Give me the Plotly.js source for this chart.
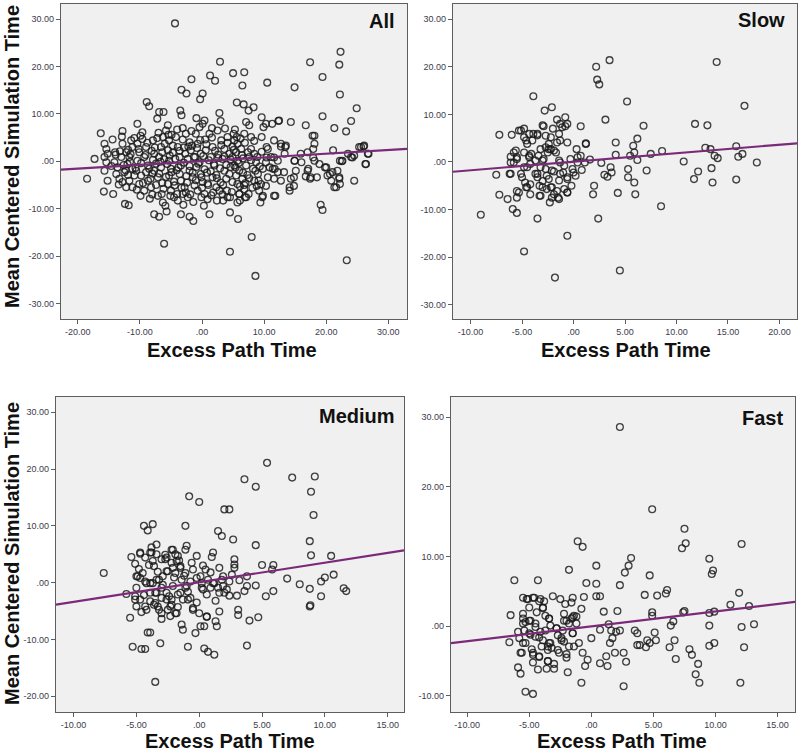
<!DOCTYPE html>
<html>
<head>
<meta charset="utf-8">
<script src="https://cdn.plot.ly/plotly-3.0.1.min.js"></script>
<style>
  html, body { margin: 0; padding: 0; background: #fff; }
  #chart { width: 800px; height: 753px; }
</style>
</head>
<body>
<div id="chart"></div>
<script>
// points: [excess path time, mean centered simulation time]
var allPoints = [
  [-4.35,29.1],[2.9,21.0],[5.0,18.6],[6.8,18.8],[1.3,18.1],[2.1,17.0],[-1.7,17.3],[10.5,16.6],[6.5,16.0],
  [-3.3,15.1],[-2.5,14.3],[-0.3,13.1],[0.1,14.3],[14.9,15.6],[17.4,20.9],[22.1,20.4],[22.3,23.1],[19.4,17.8],
  [22.2,14.1],[24.9,11.2],[19.4,9.5],[24.0,8.5],[21.3,7.0],[23.2,6.3],[16.7,7.6],[18.1,5.4],[14.3,8.3],
  [12.3,8.5],[11.3,7.9],[9.6,9.3],[9.9,7.2],[5.6,12.4],[6.7,12.0],[8.3,11.4],[7.5,10.7],[2.8,10.2],
  [3.0,8.5],[0.4,8.6],[-0.9,9.1],[-3.5,10.7],[-3.3,9.7],[-8.9,12.5],[-8.5,11.6],[-6.9,10.4],[-6.2,10.4],
  [-7.2,9.0],[-10.4,7.9],[-12.8,6.4],[-16.3,5.9],[-18.5,-3.7],[-17.3,0.5],[-15.8,-6.4],[-14.3,-6.9],
  [-12.4,-9.0],[-11.8,-9.3],[-7.7,-11.2],[-6.9,-11.7],[-5.7,-10.6],[-3.4,-11.2],[-2.0,-11.7],[-1.4,-12.6],
  [-6.1,-17.4],[0.3,-9.4],[1.2,-11.2],[4.5,-10.8],[5.8,-12.2],[4.5,-19.1],[8.0,-16.0],[8.6,-24.2],
  [23.3,-20.9],[19.1,-9.2],[19.4,-10.3],[24.5,-4.1],[26.3,-0.6],[26.8,1.6],[26.0,3.1],[25.3,3.0],[24.2,0.8],
  [22.2,0.1],[22.5,0.0],[21.1,2.3],[22.1,-3.4],[22.2,-4.8],[21.3,-5.5],[20.6,-2.7],[19.8,-1.3],[18.5,-3.4],
  [17.4,-3.7],[16.7,-3.2],[17.1,-1.6],[17.9,0.8],[17.9,2.6],[16.0,-0.2],[14.9,0.1],[14.8,-3.4],[14.1,-6.2],
  [14.8,-5.2],[13.2,-2.3],[12.7,3.1],[13.4,3.0],[11.6,0.8],[11.7,-1.6],[10.9,-1.3],[11.8,-7.3],[9.7,-7.6],
  [9.4,-8.7],[10.4,3.0],[9.6,5.1],[10.4,0.8],[9.1,-4.1],[8.8,-5.2],[7.5,-6.9],[6.9,-7.6],[6.0,-6.9],
  [6.1,-8.3],[4.5,-7.6],[3.4,-8.3],[2.4,-8.3],[1.8,-6.6],[4.0,-6.2],
  [-15.7,3.7],[-15.4,2.6],[-15.2,1.6],[-15.7,0.9],[-15.4,-0.2],[-15.7,-2.0],[-15.2,-4.1],[-14.1,-0.2],
  [-13.6,-1.3],[-13.8,-2.7],[-13.3,-3.7],[-12.8,-4.4],[-12.5,-2.3],[-13.0,0.9],[-12.2,1.9],[-12.8,3.7],
  [-11.4,4.4],[-11.2,3.0],[-11.7,0.9],[-12.0,-0.6],[-11.2,-1.6],[-10.9,-3.0],[-11.7,-4.1],[-12.2,-5.5],
  [-11.2,-5.5],[-10.1,-4.8],[-9.8,-3.0],[-10.4,0.1],[-10.1,1.9],[-10.4,3.7],[-9.6,4.7],[-9.0,3.0],
  [-9.3,0.9],[-8.7,-0.9],[-9.0,-2.3],[-8.7,-4.1],[-9.3,-6.2],[-8.2,-5.5],[-7.9,4.4],[-7.7,1.6],[-7.7,-2.0],
  [-7.1,-3.4],[-6.6,-1.3],[-6.9,0.9],[-6.6,3.0],[-6.3,5.1],[-5.5,7.6],[-5.8,6.5],[-5.3,4.4],[-5.5,2.3],
  [-5.3,0.1],[-5.0,-1.6],[-5.3,-3.0],[-5.5,-4.8],[-5.0,-6.2],[-7.1,-7.3],[-6.3,-8.7],[-4.5,-7.6],[-3.9,-8.3],
  [-4.2,5.1],[-3.9,3.0],[-3.6,0.9],[-3.4,-0.9],[-3.6,-2.7],[-3.4,-4.1],[-2.8,-5.5],[-3.1,-6.9],[-2.3,-7.6],
  [-2.6,5.8],[-2.0,4.0],[-1.8,2.3],[-2.3,0.5],[-2.0,-2.0],[-1.5,-3.4],[-1.2,-5.1],[-0.7,-6.2],[-1.0,5.8],
  [-0.4,7.2],[0.1,7.9],[-0.7,3.7],[-0.2,1.6],[-0.4,-0.2],[-0.2,-2.7],[0.1,-4.4],[0.4,-6.9],[0.9,-8.0],
  [1.2,5.8],[1.7,3.0],[1.4,0.9],[2.0,-0.9],[1.7,-3.4],[2.3,-5.5],[2.8,-6.2],[3.1,4.4],[3.6,2.6],[3.3,0.5],
  [3.6,-2.0],[3.9,-3.7],[4.1,-7.6],[2.5,6.5],[4.1,5.1],[4.4,1.6],
  [5.1,5.8],[5.2,4.4],[5.7,3.7],[6.3,2.6],[5.5,1.9],[4.9,0.9],[5.7,0.1],[5.2,-0.9],[6.0,-2.0],[5.5,-3.0],
  [6.5,-3.7],[5.7,-4.8],[6.8,-5.9],[6.0,-6.9],[7.1,-7.6],[5.7,-8.7],[7.9,2.6],[8.4,1.6],[7.6,0.9],[8.7,-0.2],
  [8.2,-1.6],[9.0,-2.7],[8.4,-4.1],[9.5,-4.8],[9.2,-6.2],[9.8,-7.3],[7.6,7.6],[7.1,8.3],[7.9,5.1],[6.8,5.8],
  [10.3,7.9],[12.4,8.6],[11.6,4.4],[12.7,3.7],[13.5,3.3],[10.6,2.6],[11.1,0.9],[12.2,0.1],[13.3,1.6],
  [10.3,-0.2],[11.4,-1.6],[12.2,-2.3],[10.6,-3.4],[11.6,-3.7],[9.8,-1.6],[12.7,-4.1],[10.3,-5.2],[11.6,-7.3],
  [14.1,-5.5],[14.3,-3.7],[15.1,-2.0],[14.9,0.1],[15.9,1.6],[17.0,1.9],[17.8,5.4],[18.1,3.7],[18.1,0.1],
  [18.9,-0.6],[20.0,-1.3],[17.0,-2.0],[17.5,-3.4],[20.2,-3.0],[21.0,-2.3],[21.8,-2.0],[20.8,-4.1],[22.1,-3.7],
  [21.6,-5.5],[22.6,0.1],[23.5,1.6],[24.0,0.9],[24.5,1.2],[25.6,3.0],[26.1,3.3],[26.7,1.6],[26.4,-0.6],
  [-8.1,2.2],[-7.4,-0.5],[-6.1,0.4],[-4.7,1.8],[-4.1,-1.9],[-2.9,2.9],[-1.1,0.9],[-0.9,-1.2],[0.6,2.3],
  [0.8,-2.4],[2.6,1.4],[2.3,-2.9],[4.6,-1.2],[6.6,0.6],[7.3,-2.9],[-10.7,-1.4],[-8.0,-2.6],[-6.4,-4.6],
  [-4.4,-5.1],[-2.5,-3.1],[-1.6,3.3],[0.5,4.6],[1.0,-5.0],[3.0,-4.5],[4.9,3.1],[6.2,4.8],[7.0,-4.6],
  [-9.6,6.1],[-7.0,6.0],[-4.9,5.6],[-3.1,7.0],[-1.9,-7.0],[-0.1,-7.6],[1.6,7.0],[3.7,6.9],[5.3,6.7],
  [-11.9,2.4],[-13.9,1.4],[-14.4,4.6],[-9.9,-7.3],[-8.4,-7.9],[-5.9,-9.4],[-3.0,-9.2],
  [-13.2,2.1],[-12.6,-0.8],[-11.9,-2.9],[-11.5,1.5],[-10.9,4.9],[-10.6,-2.0],[-10.2,2.6],[-9.8,-0.4],
  [-9.5,-4.6],[-9.1,1.3],[-8.8,3.9],[-8.5,-1.6],[-8.3,-3.7],[-7.9,0.3],[-7.6,2.9],[-7.4,-5.0],[-7.2,4.9],
  [-6.9,-2.6],[-6.7,-0.1],[-6.4,1.9],[-6.2,-5.8],[-6.0,3.7],[-5.8,-3.3],[-5.6,-0.6],[-5.4,5.6],[-5.2,1.2],
  [-4.9,-2.3],[-4.7,3.3],[-4.5,-4.3],[-4.3,0.5],[-4.0,6.7],[-3.8,-1.3],[-3.6,2.2],[-3.3,-5.6],[-3.1,4.6],
  [-2.9,-0.3],[-2.7,1.6],[-2.4,-4.5],[-2.2,3.1],[-2.0,-1.0],[-1.7,6.4],[-1.5,-2.4],[-1.3,0.9],[-1.0,-4.0],
  [-0.8,2.8],[-0.6,-0.5],[-0.3,4.5],[-0.1,-3.4],[0.2,1.1],[0.4,-1.7],[0.7,3.6],[0.9,-4.7],[1.1,0.2],
  [1.4,-2.1],[1.6,5.0],[1.9,-0.6],[2.1,2.2],[2.4,-3.6],[2.6,0.7],[2.9,-1.5],[3.1,3.4],[3.4,-5.0],[3.6,1.0],
  [3.9,-0.8],[4.1,3.9],[4.4,-2.7],[4.6,0.4],[4.9,-4.4],[5.1,2.4],[5.4,-1.3],[5.6,5.1],[5.9,-0.4],[6.1,-5.3],
  [6.4,1.3],[6.6,-2.4],[6.9,3.9],[7.1,-0.9],[7.4,1.9],[7.6,-3.6],[7.9,0.2],[8.1,-5.6],[8.4,4.3],[8.6,-2.0],
  [8.9,0.9],[9.3,-1.1],[9.6,2.0],[-14.6,-1.0],[-14.0,1.9],[-13.4,-4.9],[-12.9,5.2],[-12.3,-1.9],[-11.6,-0.1],
  [-10.5,-6.0],[-9.9,5.4],[-8.0,-7.0],[-6.5,-6.9],[-5.1,-7.3],[-4.0,-6.9],[-2.6,-6.6],[-1.4,-8.6],[0.0,-5.6],
  [1.5,-7.2],[3.3,-7.0],[4.8,-6.5],[6.8,-5.0]
];
var slowPoints = [
  [-9.0,-11.1],[-7.2,5.7],[-7.5,-2.7],[-7.2,-6.9],[-6.4,-7.8],[-6.0,5.7],[-6.1,1.1],[-6.2,-2.5],[-5.9,-9.9],
  [-5.5,-10.7],[-5.5,-7.5],[-5.3,-6.4],[-5.8,-0.1],[-5.5,0.6],[-5.6,2.4],[-5.1,-2.5],[-5.3,6.6],[-4.8,7.0],
  [-4.8,-18.8],[-4.6,-5.3],[-4.7,-4.3],[-4.5,-1.1],[-4.3,1.0],[-4.6,4.5],[-4.1,1.7],[-4.2,-6.8],[-3.9,13.8],
  [-3.9,5.9],[-3.5,5.6],[-3.7,-2.5],[-3.5,-3.2],[-3.5,-11.9],[-3.3,-7.1],[-3.3,-5.0],[-3.2,2.7],[-3.0,0.3],
  [-2.9,7.5],[-2.8,10.8],[-2.7,-1.5],[-2.6,-5.7],[-2.4,-3.6],[-2.4,2.7],[-2.3,-8.5],[-2.2,5.2],[-2.1,11.5],
  [-2.1,-5.3],[-1.9,-6.8],[-2.0,7.0],[-1.9,-2.0],[-1.8,-24.3],[-1.7,2.0],[-1.6,8.9],[-1.5,-7.5],[-1.4,-3.9],
  [-1.3,4.5],[-1.3,-0.1],[-1.1,7.3],[-1.0,-2.2],[-0.9,-5.7],[-0.8,9.4],[-0.8,7.5],[-0.6,4.1],[-0.6,-3.2],
  [-0.6,-6.4],[-0.6,-15.5],[-0.2,-5.0],[-0.1,-1.5],[0.3,2.7],[0.4,1.0],[0.2,-2.9],[0.7,7.5],[0.8,-1.7],
  [1.2,3.9],[1.1,-0.1],[1.6,0.5],[2.0,-5.0],[1.9,-6.8],[2.2,20.0],[2.3,17.3],[2.5,16.3],[2.4,-11.9],
  [2.7,-0.2],[3.0,-2.7],[3.1,8.9],[3.3,-3.1],[3.5,21.4],[3.6,-1.1],[3.7,-2.2],[4.1,4.1],[4.1,1.5],[4.3,-6.5],
  [4.5,-22.8],[5.2,12.7],[5.3,-1.5],[5.3,-3.2],[5.5,1.3],[5.8,3.4],[5.9,-4.3],[6.0,-6.8],[6.2,4.9],[6.2,0.4],
  [5.9,2.0],[6.8,7.6],[7.1,-1.8],[7.5,1.7],[8.5,-9.3],[8.6,2.3],[10.7,0.1],[11.7,-3.6],[11.8,8.0],
  [12.1,-2.0],[12.8,3.0],[13.0,7.7],[13.4,-1.3],[13.3,2.7],[13.5,-4.3],[13.7,1.3],[13.9,21.0],[14.0,0.8],
  [15.8,3.3],[15.8,-3.7],[16.0,1.1],[16.4,1.7],[16.6,11.8],[17.8,-0.1],
  [-5.1,6.6],[-4.8,5.2],[-4.3,5.9],[-4.0,4.5],[-4.5,3.8],[-3.5,5.9],[-3.0,7.7],[-2.7,5.5],[-2.4,3.8],
  [-2.2,2.7],[-2.7,3.1],[-2.5,2.0],[-1.9,2.4],[-1.6,4.1],[-1.4,5.9],[-1.3,8.0],[-0.6,8.0],[-5.8,2.0],
  [-5.5,1.0],[-4.8,2.0],[-4.3,1.3],[-3.7,0.3],[-4.2,-0.4],[-3.4,1.3],[-2.9,0.6],[-3.2,-1.1],[-3.5,-2.5],
  [-3.0,-4.0],[-2.6,-2.9],[-2.1,-1.8],[-1.4,0.3],[-0.9,-0.8],[-1.3,-2.5],[-0.6,-3.6],[0.0,-2.2],[0.4,-0.1],
  [-0.3,0.6],[0.7,1.3],[1.2,3.8],[-4.8,-1.1],[-5.0,-3.2],[-4.5,-5.3],[-4.2,-4.7],[-5.5,-6.1],[-6.1,-2.5],
  [-6.1,-0.1],[-3.0,-5.3],[-2.2,-5.3],[-1.6,-6.1],[-2.1,-7.5],[-0.6,-6.4],[-1.4,-7.8],[-3.2,-7.1]
];
var mediumPoints = [
  [-7.6,1.7],[-5.8,-2.0],[-5.5,-6.2],[-5.3,-11.3],[-5.4,4.5],[-5.1,3.3],[-5.0,1.1],[-5.1,-3.0],[-5.0,-4.2],
  [-4.7,5.1],[-4.9,1.1],[-4.5,1.7],[-4.4,10.0],[-4.1,9.2],[-3.7,10.3],[-4.6,-11.7],[-4.3,-11.7],[-4.1,-8.8],
  [-3.9,-8.8],[-3.5,-17.5],[-3.1,-10.7],[-4.2,-0.1],[-3.9,-1.8],[-4.2,-4.8],[-3.8,5.3],[-3.6,2.9],[-3.4,6.7],
  [-3.7,-0.1],[-3.4,-1.8],[-3.5,-3.6],[-3.2,0.5],[-3.0,-0.9],[-3.0,-6.4],[-3.2,-4.8],[-2.7,4.1],[-2.6,2.0],
  [-2.6,-3.0],[-2.5,-4.8],[-2.2,3.5],[-2.1,5.8],[-1.9,1.7],[-2.1,-0.6],[-1.9,-5.4],[-2.2,-3.9],[-1.7,4.7],
  [-1.5,2.6],[-1.4,0.5],[-1.5,-1.8],[-1.4,-7.4],[-1.3,-8.3],[-1.1,5.8],[-1.1,10.0],[-1.1,1.7],[-1.0,-0.6],
  [-0.9,-3.0],[-0.9,-11.3],[-0.8,15.2],[-0.6,3.5],[-0.5,-4.8],[-0.3,-8.9],[-0.2,4.7],[0.0,14.2],[0.1,1.1],
  [0.2,-0.9],[0.1,-7.7],[0.4,-11.6],[0.4,-7.7],[0.5,2.3],[0.6,-6.0],[0.7,-12.2],[1.1,5.3],[1.2,-12.7],
  [1.1,-0.1],[1.3,-6.8],[1.4,-7.7],[1.5,9.1],[1.6,-5.1],[1.8,8.2],[1.6,-1.8],[1.9,1.1],[2.0,12.9],[2.4,12.9],
  [2.4,-2.3],[2.7,7.6],[2.8,4.1],[2.8,3.2],[2.8,2.6],[3.0,-2.3],[3.1,-4.8],[3.1,-5.7],[3.2,0.4],[3.6,18.2],
  [3.8,-11.1],[3.8,1.1],[3.8,-0.6],[3.6,-1.5],[4.0,-6.7],[4.5,6.6],[4.5,-0.5],[4.5,16.9],[4.7,-6.1],
  [5.0,3.1],[5.3,-2.4],[5.4,21.1],[5.8,2.3],[5.9,3.1],[5.9,-1.5],[7.0,0.7],[7.4,18.5],[8.0,-0.3],[8.8,7.3],
  [8.8,-1.1],[8.8,-4.2],[8.9,16.0],[8.9,4.8],[9.1,11.9],[9.2,18.7],[9.7,-2.4],[9.7,0.2],[10.0,0.9],
  [10.5,4.7],[10.7,1.4],[11.5,-1.0],[11.7,-1.5],[8.85,-4.0],
  [-4.7,5.3],[-4.3,4.4],[-3.9,5.3],[-3.7,3.8],[-3.4,5.0],[-3.0,4.1],[-2.6,4.4],[-2.2,5.8],[-1.9,5.0],
  [-1.8,3.8],[-1.5,2.9],[-2.1,2.6],[-2.5,2.0],[-2.9,1.1],[-3.4,0.5],[-3.9,-0.1],[-4.3,0.2],[-4.7,0.8],
  [-5.0,-0.9],[-5.1,-2.4],[-4.7,-3.0],[-4.3,-4.2],[-3.9,-3.3],[-3.5,-1.8],[-3.0,-2.7],[-2.6,-1.8],[-2.2,-3.0],
  [-1.7,-2.1],[-1.3,-3.0],[-0.7,-2.7],[-1.1,-0.9],[-0.7,0.2],[-0.2,0.8],[0.2,-0.1],[0.3,-1.2],[0.7,0.5],
  [0.9,-0.9],[1.2,-0.1],[1.5,-0.9],[1.8,0.5],[1.9,-0.6],[2.2,-1.2],[2.4,0.2],[-0.5,-4.5],[0.6,-6.0],
  [-2.3,-4.2],[-3.3,-4.2],[-3.0,-5.4],[-1.8,-5.4],
  [-4.8,2.4],[-4.4,-2.2],[-4.0,3.1],[-3.6,-3.9],[-3.3,1.9],[-2.9,-0.4],[-2.7,4.9],[-2.4,-2.4],[-2.0,0.9],
  [-1.7,-4.3],[-1.6,3.9],[-1.2,1.2],[-0.9,-1.6],[-0.5,2.3],[-0.2,-3.5],[0.3,3.0],[0.6,-2.1],[0.9,1.8],
  [1.3,-3.2],[1.6,2.6],[2.0,-1.8],[2.6,1.4],[-4.6,-5.2],[-3.8,6.2],[-2.3,-5.9],[-1.0,6.5],[0.0,-5.4],[1.0,4.5]
];
var fastPoints = [
  [-6.6,-2.3],[-6.5,1.6],[-6.2,6.6],[-5.9,-0.8],[-5.9,-5.9],[-5.7,-6.8],[-5.8,-1.7],[-5.6,-3.8],[-5.5,4.1],
  [-5.5,1.8],[-5.5,0.4],[-5.4,-0.6],[-5.3,-2.4],[-5.3,-9.4],[-5.2,3.9],[-5.0,2.7],[-5.0,0.8],[-4.9,-1.2],
  [-4.8,-3.3],[-4.7,-4.1],[-4.7,-9.7],[-4.7,-5.2],[-4.6,4.1],[-4.5,-0.1],[-4.4,2.0],[-4.3,6.6],[-4.2,-1.6],
  [-4.2,-4.4],[-4.3,-6.2],[-4.1,3.9],[-4.0,-2.9],[-3.9,2.6],[-3.8,3.6],[-3.7,1.5],[-3.7,-0.6],[-3.6,-6.1],
  [-3.5,-5.0],[-3.5,-3.4],[-3.4,1.1],[-3.3,0.1],[-3.3,-2.4],[-3.2,-3.1],[-3.1,4.3],[-3.0,-6.1],[-2.8,-0.3],
  [-2.7,-1.3],[-2.5,3.9],[-2.6,-3.8],[-2.4,-2.0],[-2.3,-0.6],[-2.2,0.8],[-2.1,3.2],[-2.0,-4.5],[-1.9,-6.6],
  [-1.8,8.1],[-1.8,0.4],[-1.6,3.4],[-1.5,1.3],[-1.5,-1.0],[-1.4,-2.9],[-1.5,4.1],[-1.2,1.4],[-1.0,-2.4],
  [-1.1,12.2],[-0.8,-8.1],[-0.7,11.4],[-0.7,-3.8],[-0.6,4.2],[-0.8,2.5],[-0.5,-5.7],[-0.4,6.2],[-0.3,-4.8],
  [0.0,-1.7],[0.4,8.7],[0.4,6.1],[0.4,4.3],[0.7,4.3],[0.7,-0.5],[0.7,-5.3],[1.0,2.1],[1.2,-4.3],[1.3,-5.7],
  [1.4,0.3],[1.5,-2.4],[1.6,-0.6],[1.7,-1.7],[1.9,-3.8],[2.0,-0.8],[2.1,2.2],[2.3,5.9],[2.3,-0.6],[2.3,28.6],
  [2.6,-3.8],[2.6,-8.6],[2.7,7.7],[2.8,-5.1],[3.0,8.7],[3.2,9.8],[3.5,-0.6],[3.7,-1.0],[3.7,-2.7],[3.9,-2.7],
  [4.3,4.5],[4.4,-3.0],[4.5,-2.0],[4.7,7.3],[4.7,-2.4],[4.9,2.0],[4.9,1.5],[4.9,16.8],[5.1,-0.9],[5.2,-2.0],
  [5.3,4.4],[6.0,4.7],[6.1,5.2],[6.3,-3.0],[6.4,0.1],[6.6,0.7],[6.7,-2.0],[6.8,-4.7],[7.3,11.2],[7.4,2.0],
  [7.5,2.2],[7.5,14.0],[7.6,11.9],[7.9,-3.3],[8.1,-4.1],[8.4,-6.9],[8.6,-5.4],[8.7,-8.1],[9.5,1.9],[9.5,9.7],
  [9.5,0.1],[9.5,-2.8],[9.7,7.5],[9.8,8.0],[9.9,2.1],[9.9,-2.4],[11.2,3.1],[11.9,4.8],[12.0,-8.1],
  [12.1,-0.1],[12.1,11.8],[12.3,-3.0],[12.7,2.9],[13.1,0.3],
  [-5.1,3.9],[-4.7,4.1],[-4.2,3.6],[-3.9,2.7],[-3.4,1.1],[-5.5,1.1],[-5.3,0.6],[-4.9,0.8],[-4.5,0.4],
  [-5.0,-1.0],[-4.5,-1.5],[-4.1,-0.8],[-3.9,-2.0],[-3.4,-2.4],[-3.5,-2.9],[-2.8,-0.3],[-2.4,-1.7],[-2.7,-3.4],
  [-2.0,-4.0],[-1.8,-2.9],[-5.5,-2.4],[-5.7,-3.8],[-4.7,-3.8],[-4.2,-4.3],[-3.5,-5.0],[-3.0,-5.4],[-2.2,-2.2],
  [-1.5,-1.0],[-1.2,0.4],[-1.6,1.1],[-2.0,0.8],[-2.2,1.8],[-1.4,1.5]
];

// regression lines: endpoints at the left and right axis edges
var fitAllX = [-22.7, 33.0],    fitAllY = [-1.76, 2.63];
var fitSlowX = [-11.7, 21.7],   fitSlowY = [-2.05, 3.93];
var fitMediumX = [-11.4, 16.3], fitMediumY = [-3.9, 5.69];
var fitFastX = [-11.3, 16.4],   fitFastY = [-2.42, 3.51];

var panelNames = ['All', 'Slow', 'Medium', 'Fast'];
var xTicks = [[-20,-10,0,10,20,30], [-10,-5,0,5,10,15,20], [-10,-5,0,5,10,15], [-10,-5,0,5,10,15]];
var yTicks = [[-30,-20,-10,0,10,20,30], [-30,-20,-10,0,10,20,30], [-20,-10,0,10,20,30], [-10,0,10,20,30]];
var xRanges = [[-22.7, 33.0], [-11.7, 21.7], [-11.4, 16.3], [-11.3, 16.4]];
var yRanges = [[-33.3, 33.2], [-33.0, 33.2], [-22.8, 32.7], [-12.3, 32.9]];

function label(v) {
  if (v === 0) return '.00';
  return v.toFixed(2);
}

var pointSets = [allPoints, slowPoints, mediumPoints, fastPoints];
var fitSets = [[fitAllX, fitAllY], [fitSlowX, fitSlowY], [fitMediumX, fitMediumY], [fitFastX, fitFastY]];
var data = [];
pointSets.forEach(function (pts, i) {
  var ax = i === 0 ? '' : String(i + 1);
  data.push({
    x: pts.map(function (p) { return p[0]; }),
    y: pts.map(function (p) { return p[1]; }),
    type: 'scatter', mode: 'markers',
    xaxis: 'x' + ax, yaxis: 'y' + ax,
    marker: { symbol: 'circle-open', size: 6.8, color: 'rgba(25,25,25,0.82)', line: { width: 1.3 } }
  });
  data.push({
    x: fitSets[i][0], y: fitSets[i][1],
    type: 'scatter', mode: 'lines',
    xaxis: 'x' + ax, yaxis: 'y' + ax,
    line: { color: '#7a2a78', width: 2.2 }
  });
});

var W = 800, H = 753;
// plot frames in pixels: [left, right, top, bottom]
var frames = [[61, 407, 4, 319], [453, 797, 4, 319], [56, 404, 397, 712], [451, 795, 397, 712]];

var tickFont = { family: 'Liberation Sans, Arial, sans-serif', size: 9, color: '#3c3c4c' };
var layout = {
  width: W, height: H,
  margin: { l: 0, r: 0, t: 0, b: 0 },
  paper_bgcolor: '#ffffff',
  plot_bgcolor: '#f0f0f0',
  showlegend: false,
  hovermode: false,
  annotations: []
};

frames.forEach(function (f, i) {
  var ax = i === 0 ? '' : String(i + 1);
  layout['xaxis' + ax] = {
    domain: [f[0] / W, f[1] / W], anchor: 'y' + ax,
    range: xRanges[i], tickvals: xTicks[i], ticktext: xTicks[i].map(label),
    showline: true, mirror: true, linecolor: '#5e5e5e', linewidth: 1.2,
    showgrid: false, zeroline: false, ticks: 'outside', ticklen: 4, tickcolor: '#5e5e5e',
    tickfont: tickFont
  };
  layout['yaxis' + ax] = {
    domain: [1 - f[3] / H, 1 - f[2] / H], anchor: 'x' + ax,
    range: yRanges[i], tickvals: yTicks[i], ticktext: yTicks[i].map(label),
    showline: true, mirror: true, linecolor: '#5e5e5e', linewidth: 1.2,
    showgrid: false, zeroline: false, ticks: 'outside', ticklen: 4, tickcolor: '#5e5e5e',
    tickfont: tickFont
  };
});

var titleFont = { family: 'Liberation Sans, Arial, sans-serif', size: 20, color: '#111', weight: 'bold' };
// x axis titles
[[232, 350], [626, 350], [230, 741], [622, 741]].forEach(function (p) {
  layout.annotations.push({
    text: 'Excess Path Time', xref: 'paper', yref: 'paper',
    x: p[0] / W, y: 1 - p[1] / H, xanchor: 'center', yanchor: 'middle',
    showarrow: false, font: titleFont, borderpad: 0
  });
});
// y axis titles (left column only)
[[12, 157], [12, 554]].forEach(function (p) {
  layout.annotations.push({
    text: 'Mean Centered Simulation Time', xref: 'paper', yref: 'paper',
    x: p[0] / W, y: 1 - p[1] / H, xanchor: 'center', yanchor: 'middle',
    textangle: -90, showarrow: false, font: titleFont
  });
});
// panel names, top right inside each frame
[[397, 21], [787, 20], [397, 416], [785, 418]].forEach(function (p, i) {
  layout.annotations.push({
    text: panelNames[i], xref: 'paper', yref: 'paper',
    x: p[0] / W, y: 1 - p[1] / H, xanchor: 'right', yanchor: 'middle',
    showarrow: false, font: titleFont
  });
});

Plotly.newPlot('chart', data, layout, { staticPlot: true });
</script>
</body>
</html>
